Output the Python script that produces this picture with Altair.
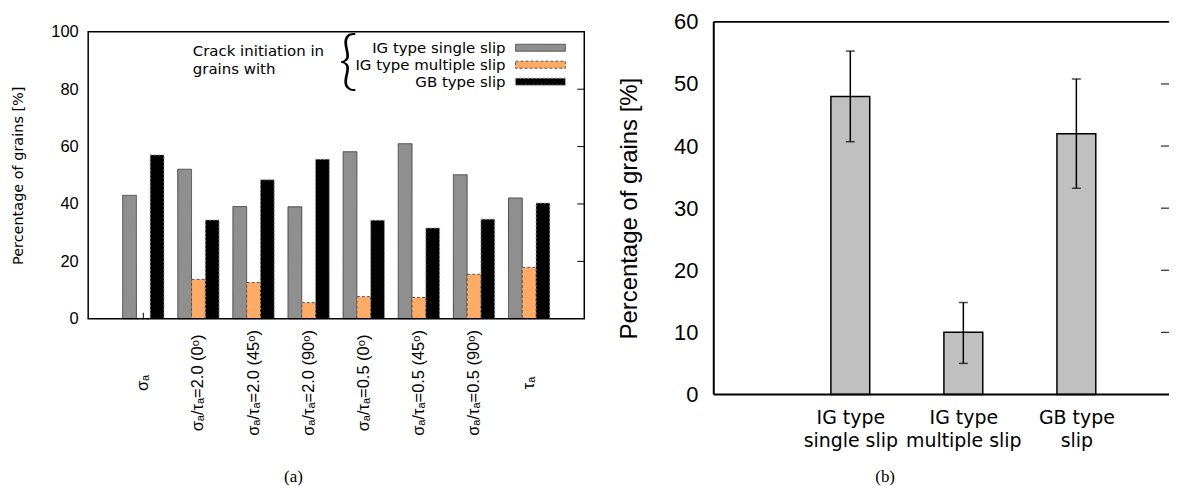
import json
import altair as alt
import pandas as pd

# ---------------- data: panel (a) ----------------
conditions = ["σₐ", "σₐ/τₐ=2.0 (0ᵒ)", "σₐ/τₐ=2.0 (45ᵒ)", "σₐ/τₐ=2.0 (90ᵒ)",
              "σₐ/τₐ=0.5 (0ᵒ)", "σₐ/τₐ=0.5 (45ᵒ)", "σₐ/τₐ=0.5 (90ᵒ)", "τₐ"]
series = ["IG type single slip", "IG type multiple slip", "GB type slip"]
single_slip = [43.0, 52.1, 39.1, 39.0, 58.2, 61.0, 50.2, 42.1]
multiple_slip = [0.0, 13.7, 12.6, 5.6, 7.7, 7.4, 15.5, 17.9]
gb_slip = [57.1, 34.4, 48.4, 55.6, 34.3, 31.6, 34.7, 40.3]
y_ticks_a = [0, 20, 40, 60, 80, 100]

# ---------------- data: panel (b) ----------------
types_b = ["IG type\nsingle slip", "IG type\nmultiple slip", "GB type\nslip"]
mean_b = [48.0, 10.0, 42.0]
err_low_b = [40.7, 5.0, 33.2]
err_high_b = [55.3, 14.8, 50.8]
y_ticks_b = [0, 10, 20, 30, 40, 50, 60]

colors_a = ["#8f8f8f", "#ffab66", "#000000"]
strokes_a = ["#4a4a4a", "#555555", "#9a9a9a"]
dashes_a = [[1, 0], [3, 2], [2, 2]]

rows = []
for i, c in enumerate(conditions):
    for s, vals in zip(series, [single_slip, multiple_slip, gb_slip]):
        rows.append({"condition": c, "series": s, "value": vals[i]})
df_a = pd.DataFrame(rows)
one = pd.DataFrame({"d": [0]})

# panel (a): plot frame spans y 22..310 inside a 310-high view
W_A, H_A, TOP_A = 498, 310, 22
# panel (b): plot frame spans y 12..386 inside a 386-high view
W_B, H_B, TOP_B = 457, 386, 12

band_a = alt.Scale(paddingInner=0.25, paddingOuter=0.625)
xa = alt.X("condition:N", sort=conditions, scale=band_a,
           axis=alt.Axis(title=None, labelAngle=270, labelAlign="center",
                         labelBaseline="middle", labelPadding=64, ticks=False,
                         domain=False, labelFont="Liberation Sans", labelFontSize=16.5,
                         labelColor="black", labelOverlap=False, labelLimit=300))
ya = alt.Y("value:Q", scale=alt.Scale(domain=[0, 100], range=[H_A, TOP_A], nice=False),
           axis=alt.Axis(values=y_ticks_a, title="Percentage of grains [%]", ticks=False,
                         domain=False, grid=False, labelPadding=10,
                         labelFont="Liberation Sans", labelFontSize=16.5, labelColor="black",
                         titleFont="DejaVu Sans", titleFontSize=14.5, titleFontWeight="normal",
                         titleColor="black", titleX=-70, titleY=(H_A + TOP_A) / 2,
                         titleAngle=270, titleAlign="center", titleBaseline="middle"))

xticks_a = alt.Chart(pd.DataFrame({"condition": conditions})).mark_rule(
    color="black", strokeWidth=1).encode(
    x=alt.X("condition:N", sort=conditions, bandPosition=0.5, scale=band_a),
    y=alt.value(H_A - 6), y2=alt.value(H_A))

bars_a = alt.Chart(df_a).mark_bar(strokeWidth=1).encode(
    x=xa,
    xOffset=alt.XOffset("series:N", sort=series,
                        scale=alt.Scale(paddingInner=0, paddingOuter=0)),
    y=ya,
    fill=alt.Fill("series:N", scale=alt.Scale(domain=series, range=colors_a), legend=None),
    stroke=alt.Stroke("series:N", scale=alt.Scale(domain=series, range=strokes_a), legend=None),
    strokeDash=alt.StrokeDash("series:N", scale=alt.Scale(domain=series, range=dashes_a),
                              legend=None),
)

yticks_a = alt.Chart(pd.DataFrame({"value": y_ticks_a[1:-1]})).mark_rule(
    color="black", strokeWidth=1).encode(
    y=ya, x=alt.value(W_A - 7), x2=alt.value(W_A))

frame_a = alt.Chart(one).mark_rect(fillOpacity=0, stroke="black", strokeWidth=1.5).encode(
    x=alt.value(0), x2=alt.value(W_A), y=alt.value(TOP_A), y2=alt.value(H_A))

# custom legend (labels left of swatches, with brace)
leg_layers = []
leg_y = [TOP_A + 16, TOP_A + 33, TOP_A + 50]
for s, yy, col, st, da in zip(series, leg_y, colors_a, strokes_a, dashes_a):
    leg_layers.append(alt.Chart(one).mark_text(
        align="right", baseline="middle", font="DejaVu Sans", fontSize=15,
        color="black").encode(x=alt.value(419), y=alt.value(yy), text=alt.value(s)))
    leg_layers.append(alt.Chart(one).mark_rect(
        fill=col, stroke=st, strokeWidth=1, strokeDash=da).encode(
        x=alt.value(429), x2=alt.value(479), y=alt.value(yy - 3.5), y2=alt.value(yy + 3.5)))
leg_layers.append(alt.Chart(one).mark_text(
    align="left", baseline="middle", font="DejaVu Sans", fontSize=15, color="black").encode(
    x=alt.value(105), y=alt.value(TOP_A + 19), text=alt.value("Crack initiation in")))
leg_layers.append(alt.Chart(one).mark_text(
    align="left", baseline="middle", font="DejaVu Sans", fontSize=15, color="black").encode(
    x=alt.value(105), y=alt.value(TOP_A + 37), text=alt.value("grains with")))
leg_layers.append(alt.Chart(one).mark_text(
    align="center", baseline="middle", font="Lato", fontWeight=300, fontSize=66,
    color="black").encode(x=alt.value(261), y=alt.value(TOP_A + 30), text=alt.value("{")))

cap_a = alt.Chart(one).mark_text(
    font="Liberation Serif", fontSize=17, color="black", baseline="middle").encode(
    x=alt.value(206), y=alt.value(469), text=alt.value("(a)"))

left = alt.layer(xticks_a, bars_a, yticks_a, frame_a, *leg_layers, cap_a).properties(
    width=W_A, height=H_A,
    view=alt.ViewBackground(stroke="transparent"))

# ---------------- panel (b) ----------------
df_b = pd.DataFrame({"type": types_b, "pos": [1, 2, 3], "mean": mean_b,
                     "lo": err_low_b, "hi": err_high_b})
label_arr = json.dumps([t.split("\n") for t in types_b], ensure_ascii=False)
xb = alt.X("pos:Q", scale=alt.Scale(domain=[-0.164, -0.164 + W_B / 116], nice=False,
                                    zero=False),
           axis=alt.Axis(values=[1, 2, 3], labelExpr=label_arr + "[datum.value-1]",
                         title=None, ticks=False, domain=False, grid=False,
                         labelFont="DejaVu Sans", labelFontSize=19, labelLineHeight=23,
                         labelPadding=14, labelColor="black"))
yb = alt.Y("mean:Q", scale=alt.Scale(domain=[0, 60], range=[H_B, TOP_B], nice=False),
           axis=alt.Axis(values=y_ticks_b, title="Percentage of grains [%]", ticks=False,
                         domain=False, grid=False, labelPadding=16,
                         labelFont="Liberation Sans", labelFontSize=22, labelColor="black",
                         titleFont="Liberation Sans", titleFontSize=24,
                         titleFontWeight="normal", titleColor="black", titleX=-85,
                         titleY=(H_B + TOP_B) / 2, titleAngle=270, titleAlign="center",
                         titleBaseline="middle"))

bars_b = alt.Chart(df_b).mark_bar(size=39, fill="#c0c0c0", stroke="black",
                                  strokeWidth=1.5).encode(x=xb, y=yb)
err_b = alt.Chart(df_b).mark_rule(color="black", strokeWidth=1.5).encode(
    x=xb, y=alt.Y("lo:Q"), y2="hi:Q")
caplo_b = alt.Chart(df_b).mark_tick(orient="horizontal", size=9, thickness=1.5,
                                    color="black").encode(x=xb, y=alt.Y("lo:Q"))
caphi_b = alt.Chart(df_b).mark_tick(orient="horizontal", size=9, thickness=1.5,
                                    color="black").encode(x=xb, y=alt.Y("hi:Q"))
yticks_b = alt.Chart(pd.DataFrame({"mean": y_ticks_b[1:-1]})).mark_rule(
    color="black", strokeWidth=1).encode(y=yb, x=alt.value(W_B - 8), x2=alt.value(W_B))
frame_top_b = alt.Chart(one).mark_rule(color="black", strokeWidth=2).encode(
    x=alt.value(0), x2=alt.value(W_B), y=alt.value(TOP_B))
frame_bot_b = alt.Chart(one).mark_rule(color="black", strokeWidth=2).encode(
    x=alt.value(0), x2=alt.value(W_B), y=alt.value(H_B))
frame_left_b = alt.Chart(one).mark_rule(color="black", strokeWidth=2).encode(
    x=alt.value(0), y=alt.value(TOP_B), y2=alt.value(H_B))
cap_b = alt.Chart(one).mark_text(
    font="Liberation Serif", fontSize=17, color="black", baseline="middle").encode(
    x=alt.value(172), y=alt.value(469), text=alt.value("(b)"))

right = alt.layer(bars_b, err_b, caplo_b, caphi_b, yticks_b, frame_top_b, frame_bot_b,
                  frame_left_b, cap_b).properties(
    width=W_B, height=H_B,
    view=alt.ViewBackground(stroke="transparent"))

chart = alt.hconcat(left, right, spacing=30).properties(
    padding={"left": 1.5, "top": 0, "right": 0, "bottom": 0}
).configure(background="white")

chart.save("out.html", embed_options={"renderer": "svg", "actions": False})
